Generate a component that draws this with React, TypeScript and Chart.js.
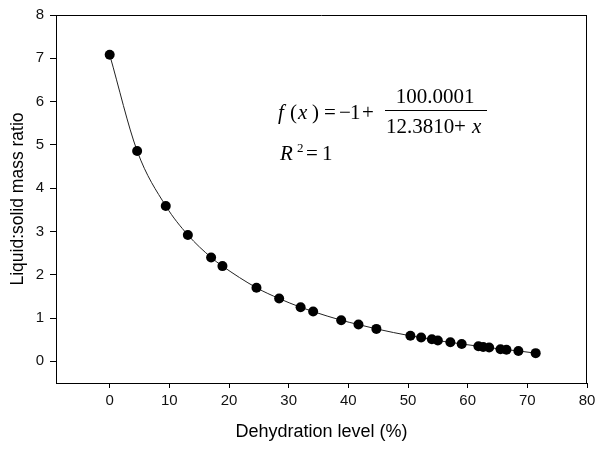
import React, { useEffect, useRef } from "react";
import { Chart, registerables } from "chart.js";

Chart.register(...registerables);

const xValues = [0, 4.6, 9.4, 13.1, 17.0, 18.9, 24.6, 28.4, 32.0, 34.1, 38.8, 41.7, 44.7, 50.4, 52.2, 54.0, 55.0, 57.1, 59.0, 61.8, 62.6, 63.6, 65.5, 66.5, 68.5, 71.4];
const yValues = [7.08, 4.86, 3.59, 2.92, 2.40, 2.20, 1.70, 1.45, 1.25, 1.15, 0.95, 0.85, 0.75, 0.59, 0.55, 0.51, 0.48, 0.44, 0.40, 0.35, 0.33, 0.32, 0.28, 0.27, 0.24, 0.19];
const xTicks = [0, 10, 20, 30, 40, 50, 60, 70, 80];
const yTicks = [0, 1, 2, 3, 4, 5, 6, 7, 8];
const xTitle = "Dehydration level (%)";
const yTitle = "Liquid:solid mass ratio";
const eqNumerator = "100.0001";
const eqDenominator = "12.3810";

const SANS = "'Liberation Sans', Arial, sans-serif";
const SERIF = "'Liberation Serif', 'Times New Roman', serif";

const framePlugin = {
  id: "frame",
  afterDraw(chart: any) {
    const { ctx, chartArea } = chart;
    const { left, right, top, bottom } = chartArea;
    ctx.save();
    ctx.strokeStyle = "#000";
    ctx.lineWidth = 1;
    ctx.beginPath();
    const t = Math.round(top) + 0.5;
    const r = Math.round(right) - 0.5;
    ctx.moveTo(Math.round(left), t);
    ctx.lineTo(r + 0.5, t);
    ctx.moveTo(r, t);
    ctx.lineTo(r, Math.round(bottom));
    ctx.stroke();

    // equation annotation
    ctx.fillStyle = "#000";
    ctx.textBaseline = "alphabetic";
    ctx.textAlign = "left";
    const fs = 21;
    const it = `italic ${fs}px ${SERIF}`;
    const nm = `${fs}px ${SERIF}`;
    const by = 119;
    ctx.font = it;
    ctx.fillText("f", 278, by);
    ctx.font = nm;
    ctx.fillText("(", 290, by);
    ctx.font = it;
    ctx.fillText("x", 298, by);
    ctx.font = nm;
    ctx.fillText(")", 312, by);
    ctx.fillText("=", 324, by);
    ctx.fillText("\u2212", 339, by);
    ctx.fillText("1", 350, by);
    ctx.fillText("+", 362, by);
    ctx.textAlign = "center";
    ctx.fillText(eqNumerator, 435, 103);
    ctx.textAlign = "left";
    ctx.fillText(eqDenominator, 386, 133);
    ctx.fillText("+", 454, 133);
    ctx.font = it;
    ctx.fillText("x", 472, 133);
    ctx.fillRect(385, 110, 102, 1);

    // R^2 = 1
    ctx.font = it;
    ctx.fillText("R", 280, 160);
    ctx.font = `13px ${SERIF}`;
    ctx.fillText("2", 297, 152);
    ctx.font = nm;
    ctx.fillText("=", 306, 160);
    ctx.fillText("1", 322, 160);
    ctx.restore();
  },
};

export default function App() {
  const ref = useRef<HTMLCanvasElement | null>(null);

  useEffect(() => {
    if (!ref.current) return;
    const points = xValues.map((x, i) => ({ x, y: yValues[i] }));
    const chart = new Chart(ref.current, {
      type: "scatter",
      data: {
        datasets: [
          {
            data: points,
            showLine: true,
            borderColor: "#222",
            borderWidth: 1,
            cubicInterpolationMode: "monotone",
            pointRadius: 5,
            pointHoverRadius: 5,
            pointBackgroundColor: "#000",
            pointBorderColor: "#000",
            pointBorderWidth: 0,
          } as any,
        ],
      },
      options: {
        animation: false,
        responsive: true,
        maintainAspectRatio: false,
        layout: { padding: { top: 12, right: 14, left: 0, bottom: 0 } },
        plugins: {
          legend: { display: false },
          tooltip: { enabled: false },
        },
        scales: {
          x: {
            type: "linear",
            min: -9,
            max: 80,
            afterBuildTicks: (s: any) => {
              s.ticks = xTicks.map((v) => ({ value: v }));
            },
            afterFit: (s: any) => {
              s.height = 68;
            },
            grid: {
              display: true,
              drawOnChartArea: false,
              drawTicks: true,
              tickLength: 5,
              color: "#000",
            },
            border: { display: true, color: "#000", width: 1 },
            ticks: {
              color: "#111",
              font: { family: SANS, size: 15 },
              padding: 4,
              maxRotation: 0,
            },
            title: {
              display: true,
              text: xTitle,
              color: "#000",
              font: { family: SANS, size: 18 },
              padding: { top: 0, bottom: 8 },
            },
          },
          y: {
            type: "linear",
            min: -0.5,
            max: 8,
            afterBuildTicks: (s: any) => {
              s.ticks = yTicks.map((v) => ({ value: v }));
            },
            afterFit: (s: any) => {
              s.width = 56;
            },
            grid: {
              display: true,
              drawOnChartArea: false,
              drawTicks: true,
              tickLength: 6,
              color: "#000",
            },
            border: { display: true, color: "#000", width: 1 },
            ticks: {
              color: "#111",
              font: { family: SANS, size: 15 },
              padding: 6,
            },
            title: {
              display: true,
              text: yTitle,
              color: "#000",
              font: { family: SANS, size: 17.5 },
              padding: { top: 8, bottom: 0 },
            },
          },
        },
      },
      plugins: [framePlugin],
    });
    return () => chart.destroy();
  }, []);

  return (
    <div style={{ position: "absolute", left: 0, top: 0, width: 601, height: 451, background: "#fff" }}>
      <canvas ref={ref} />
    </div>
  );
}
